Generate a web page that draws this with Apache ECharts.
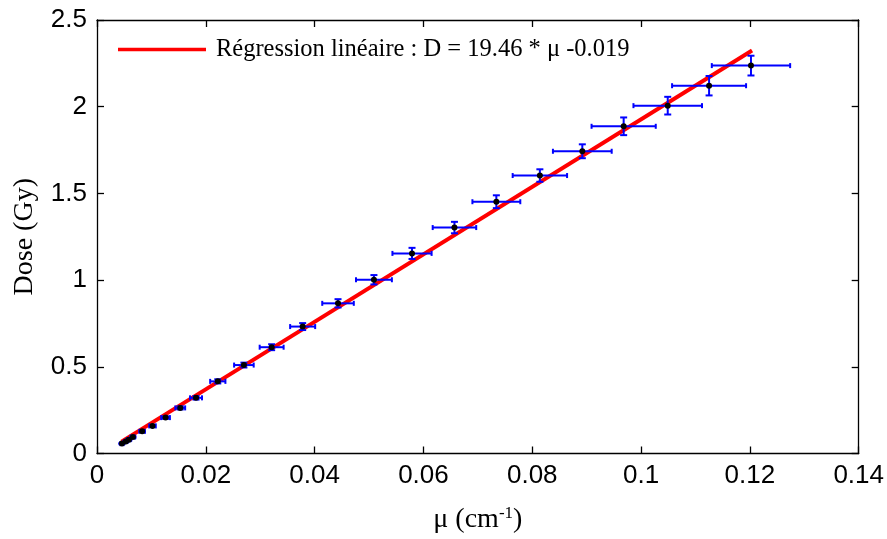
<!DOCTYPE html>
<html>
<head>
<meta charset="utf-8">
<script src="https://cdn.jsdelivr.net/npm/echarts@6/dist/echarts.min.js"></script>
<style>html,body{margin:0;padding:0;background:#fff}#c{width:887px;height:539px}</style>
</head>
<body>
<div id="c"></div>
<script>
// Measured points (mu in cm^-1, dose in Gy) with half-width errors
const mu      = [0.00458,0.0053,0.00586,0.0066,0.0083,0.0102,0.0126,0.0153,0.0182,0.0222,0.0270,0.0321,0.0378,0.0443,0.0509,0.0579,0.0657,0.0734,0.0814,0.0892,0.0968,0.1049,0.1125,0.1202];
const dose    = [0.057,0.069,0.080,0.095,0.128,0.159,0.207,0.263,0.321,0.416,0.510,0.613,0.732,0.866,1.002,1.154,1.303,1.452,1.603,1.743,1.887,2.006,2.121,2.237];
const muErr   = [0.0003,0.0003,0.00035,0.0004,0.0005,0.0006,0.0008,0.0009,0.0011,0.0014,0.0018,0.0022,0.0023,0.0029,0.0033,0.0036,0.0040,0.0044,0.0050,0.0054,0.0059,0.0063,0.0068,0.0072];
const doseErr = [0.003,0.003,0.004,0.004,0.005,0.006,0.007,0.009,0.010,0.012,0.014,0.017,0.020,0.024,0.027,0.032,0.033,0.037,0.036,0.040,0.051,0.051,0.056,0.057];
// Regression line end points (D = 19.46 * mu - 0.019)
const fitMu   = [0.0045, 0.1204];
const fitDose = [0.0686, 2.324];
const fitLabel = 'Régression linéaire : D = 19.46 * μ -0.019';
const xTicks = {min: 0, max: 0.14, interval: 0.02};
const yTicks = {min: 0, max: 2.5, interval: 0.5};

const chart = echarts.init(document.getElementById('c'));
const errData = mu.map((m, i) => [m, dose[i], muErr[i], doseErr[i]]);
const blue = '#0000ff';
const tickFont = {fontFamily: 'Liberation Sans', fontSize: 26, color: '#000'};
const serif = 'Liberation Serif';

function fmt(v){ return String(+v.toFixed(2)); }
const frameLine = {show: true, onZero: false, lineStyle: {color: '#000', width: 1.3}};
const frameTick = {inside: true, length: 7, lineStyle: {color: '#000', width: 1.3}};

chart.setOption({
  animation: false,
  backgroundColor: '#fff',
  grid: {left: 97, right: 25, top: 20, bottom: 84},
  legend: {
    data: [fitLabel], left: 118, top: 37, padding: 0, icon: 'rect', itemWidth: 88, itemHeight: 3.5, itemGap: 10,
    textStyle: {fontFamily: serif, fontSize: 24.5, color: '#000', padding: [0,0,0,5]}
  },
  xAxis: [
    {type: 'value', position: 'bottom', min: xTicks.min, max: xTicks.max, interval: xTicks.interval,
     name: 'μ (cm{sup|-1})', nameLocation: 'middle', nameGap: 52,
     nameTextStyle: {fontFamily: serif, fontSize: 28, color: '#000', rich: {sup: {fontFamily: serif, fontSize: 17, color: '#000', verticalAlign: 'top', padding: [0,0,12,0]}}},
     axisLine: frameLine, axisTick: frameTick,
     axisLabel: Object.assign({margin: 9, formatter: fmt}, tickFont),
     splitLine: {show: false}},
    {type: 'value', position: 'top', min: xTicks.min, max: xTicks.max, interval: xTicks.interval,
     axisLine: frameLine, axisTick: frameTick,
     axisLabel: {show: false}, splitLine: {show: false}}
  ],
  yAxis: [
    {type: 'value', position: 'left', min: yTicks.min, max: yTicks.max, interval: yTicks.interval,
     name: 'Dose (Gy)', nameLocation: 'middle', nameGap: 58, nameRotate: 90,
     nameTextStyle: {fontFamily: serif, fontSize: 28, color: '#000'},
     axisLine: frameLine, axisTick: frameTick,
     axisLabel: Object.assign({margin: 10, formatter: fmt}, tickFont),
     splitLine: {show: false}},
    {type: 'value', position: 'right', min: yTicks.min, max: yTicks.max, interval: yTicks.interval,
     axisLine: frameLine, axisTick: frameTick,
     axisLabel: {show: false}, splitLine: {show: false}}
  ],
  series: [
    {
      name: fitLabel, type: 'line', xAxisIndex: 0, yAxisIndex: 0, z: 2,
      data: fitMu.map((m, i) => [m, fitDose[i]]), symbol: 'none',
      lineStyle: {color: '#ff0000', width: 4}, itemStyle: {color: '#ff0000'}
    },
    {
      name: 'err', type: 'custom', z: 3,
      data: errData,
      renderItem: function(params, api){
        const x = api.value(0), y = api.value(1), dx = api.value(2), dy = api.value(3);
        const pL = api.coord([x - dx, y]), pR = api.coord([x + dx, y]);
        const pB = api.coord([x, y - dy]), pT = api.coord([x, y + dy]);
        const st = {stroke: blue, lineWidth: 2, fill: null};
        const ch = 2.5, cw = 3.5;
        return {type: 'group', children: [
          {type: 'line', shape: {x1: pL[0], y1: pL[1], x2: pR[0], y2: pR[1]}, style: st},
          {type: 'line', shape: {x1: pL[0], y1: pL[1]-ch, x2: pL[0], y2: pL[1]+ch}, style: st},
          {type: 'line', shape: {x1: pR[0], y1: pR[1]-ch, x2: pR[0], y2: pR[1]+ch}, style: st},
          {type: 'line', shape: {x1: pB[0], y1: pB[1], x2: pT[0], y2: pT[1]}, style: st},
          {type: 'line', shape: {x1: pB[0]-cw, y1: pB[1], x2: pB[0]+cw, y2: pB[1]}, style: st},
          {type: 'line', shape: {x1: pT[0]-cw, y1: pT[1], x2: pT[0]+cw, y2: pT[1]}, style: st}
        ]};
      }
    },
    {
      name: 'pts', type: 'scatter', z: 4, symbol: 'circle', symbolSize: 6,
      data: mu.map((m, i) => [m, dose[i]]),
      itemStyle: {color: '#000', opacity: 1}
    }
  ]
});
</script>
</body>
</html>
